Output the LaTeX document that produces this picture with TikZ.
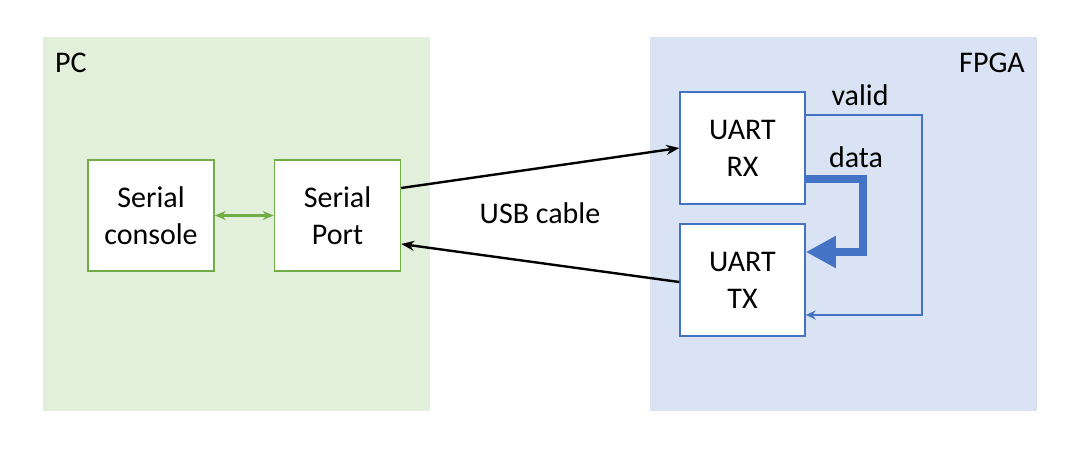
\documentclass[tikz,border=0pt]{standalone}
\usepackage{fontspec}
\setmainfont{Carlito}
\usetikzlibrary{arrows.meta}
\definecolor{pcbg}{HTML}{E2EFDA}
\definecolor{fpgabg}{HTML}{DAE3F3}
\definecolor{grn}{HTML}{70AD47}
\definecolor{blu}{HTML}{4472C4}
\tikzset{
  pcbox/.style={draw=grn, line width=1.5pt, fill=white, minimum width=126pt, minimum height=111pt, align=center, font=\fontsize{30}{37}\selectfont, inner sep=0pt},
  fpbox/.style={draw=blu, line width=1.5pt, fill=white, minimum width=125pt, minimum height=112pt, align=center, font=\fontsize{30}{37}\selectfont, inner sep=0pt},
  lbl/.style={font=\fontsize{30}{37}\selectfont, inner sep=0pt},
  usb/.style={line width=2.4pt, -{Stealth[length=13pt,width=10pt]}},
}
\begin{document}
\begin{tikzpicture}[x=1pt,y=-1pt]
\useasboundingbox (0,0) rectangle (1090,450);
\fill[white] (0,0) rectangle (1090,450);
\fill[pcbg] (43,37) rectangle (430,411);
\fill[fpgabg] (650,37) rectangle (1037,411);
\node[lbl, anchor=west] (pc) at (55,63) {PC};
\node[lbl, anchor=east] (fpga) at (1025,63) {FPGA};
\node[pcbox] (console) at (151,215.5) {Serial\\console};
\node[pcbox] (port) at (337.5,215.5) {Serial\\Port};
\node[fpbox] (rx) at (742.5,148) {UART\\RX};
\node[fpbox] (tx) at (742.5,280) {UART\\TX};
\draw[grn, line width=2.2pt, {Stealth[length=11pt,width=9pt]}-{Stealth[length=11pt,width=9pt]}] (console.east) -- (port.west);
\draw[usb] (port.east |- 0,188) -- (rx.west |- 0,148);
\draw[usb] (tx.west |- 0,282) -- (port.east |- 0,244);
\node[lbl] (usbl) at (540,213) {USB cable};
\coordinate (v1) at (922,115);
\coordinate (v2) at (922,315);
\draw[blu, line width=2pt, -{Stealth[length=10pt,width=9pt]}] (rx.east |- v1) -- (v1) -- (v2) -- (tx.east |- v2);
\coordinate (d1) at (863,179);
\coordinate (d2) at (863,252);
\draw[blu, line width=8pt, -{Triangle[length=30pt,width=30pt]}] (rx.east |- d1) -- (d1) -- (d2) -- (tx.east |- d2);
\node[lbl] (valid) at (860,95) {valid};
\node[lbl] (data) at (856,157) {data};
\end{tikzpicture}
\end{document}
